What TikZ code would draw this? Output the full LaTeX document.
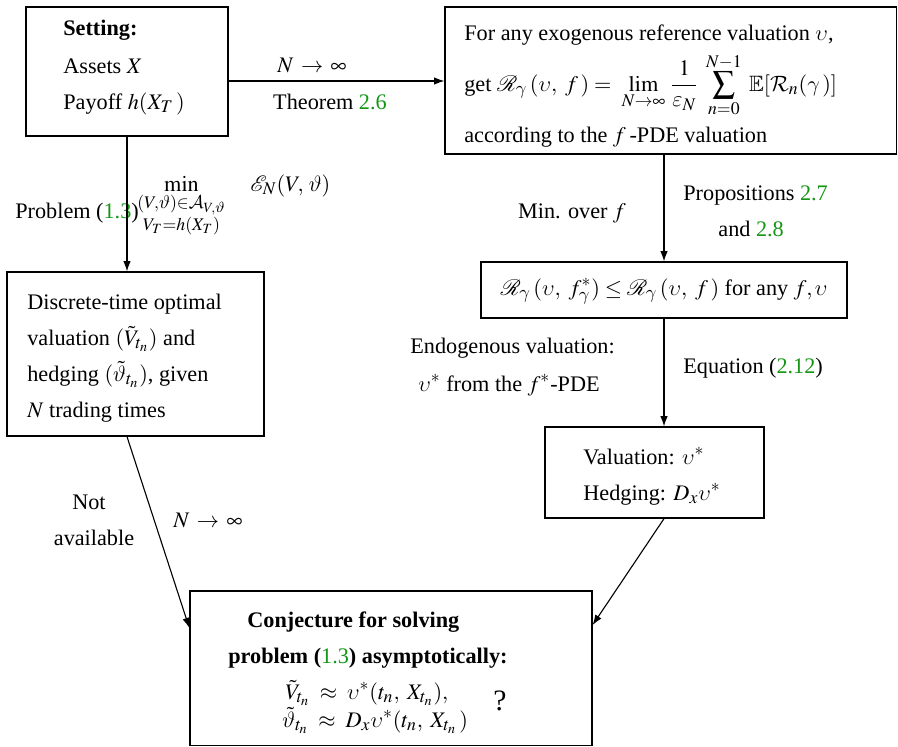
\documentclass[tikz,border=0pt]{standalone}
\usepackage{amsmath,amssymb}
\usepackage{mathptmx}
\usepackage{mathrsfs}
\usepackage[no-math]{fontspec}
\setmainfont{Liberation Serif}
\DeclareMathAlphabet{\mathcal}{OMS}{cmsy}{m}{n}
\DeclareSymbolFont{cmgreek}{OML}{cmm}{m}{it}
\DeclareMathSymbol{\upsilon}{\mathord}{cmgreek}{"1D}
\DeclareMathSymbol{\gamma}{\mathord}{cmgreek}{"0D}
\DeclareMathSymbol{\vartheta}{\mathord}{cmgreek}{"23}
\DeclareMathSymbol{\varepsilon}{\mathord}{cmgreek}{"22}
\DeclareMathSizes{12}{12}{9.6}{7.6}
\usetikzlibrary{arrows.meta,fit}
\definecolor{refgreen}{RGB}{20,150,20}
\newcommand{\gref}[1]{\textcolor{refgreen}{#1}}
\begin{document}
\begin{tikzpicture}[x=0.54pt,y=-0.54pt,
  font=\fontsize{12}{14.4}\selectfont,
  box/.style={draw, line width=0.7pt, inner sep=0pt},
  txt/.style={inner sep=0pt, anchor=base west},
  ctxt/.style={inner sep=0pt, anchor=base},
  arr/.style={-{Latex[length=5.5pt,width=4pt]}, line width=0.6pt}]
\useasboundingbox (0,0) rectangle (898,746);

% boxes
\node[box, fit={(26,7)(228,136)}] (set) {};
\node[box, fit={(445,7)(896.5,154)}] (top) {};
\node[box, fit={(481,262)(847,318)}] (min) {};
\node[box, fit={(545,427)(764,518)}] (val) {};
\node[box, fit={(7,272)(264,436)}] (disc) {};
\node[box, fit={(190,591)(592,745.5)}] (conj) {};

% setting box text
\node[txt] (s1) at (63,36) {\textbf{Setting:}};
\node[txt] (s2) at (63,73) {Assets $X$};
\node[txt] (s3) at (63,109) {Payoff $h(X_T\,)$};

% top right box text
\node[txt] (r1) at (464,40) {For any exogenous reference valuation $\upsilon$,};
\node[txt] (r2) at (464,91) {get $\displaystyle \mathscr{R}_\gamma\,(\upsilon,\ f\,)=\ \lim_{N\to\infty}\,\frac{1}{\varepsilon_N}\;\sum_{n=0}^{N-1}\;\mathbb{E}[\mathcal{R}_n(\gamma\,)]$};
\node[txt] (r3) at (464,142) {according to the $f$\,-PDE valuation};

% min box
\node[ctxt] (m1) at (664,295) {$\mathscr{R}_\gamma\,(\upsilon,\ f^*_\gamma)\le\mathscr{R}_\gamma\,(\upsilon,\ f\,)$ for any $f,\upsilon$};

% valuation box
\node[txt] (v1) at (583,464) {Valuation: $\upsilon^*$};
\node[txt] (v2) at (583,500) {Hedging: $D_x\upsilon^*$};

% discrete box
\node[txt] (d1) at (27,309) {Discrete-time optimal};
\node[txt] (d2) at (27,345) {valuation $(\tilde V_{t_n})$ and};
\node[txt] (d3) at (27,381) {hedging $(\tilde\vartheta_{t_n})$, given};
\node[txt] (d4) at (27,417) {$N$ trading times};

% conjecture box
\node[txt] (c1) at (247,627) {\textbf{Conjecture for solving}};
\node[txt] (c2) at (228,663) {\textbf{problem (}\gref{1.3}\textbf{) asymptotically:}};
\node[txt] (c3) at (285,699) {$\tilde V_{t_n}\;\approx\;\upsilon^*(t_n,\;X_{t_n}),$};
\node[txt] (c4) at (282,727) {$\tilde\vartheta_{t_n}\;\approx\;D_x\upsilon^*(t_n,\;X_{t_n}\,)$};
\node[ctxt, font=\fontsize{16}{19}\selectfont] (c5) at (500,710) {?};

% edge labels
\node[ctxt] (l1) at (312,72) {$N\,\to\,\infty$};
\node[ctxt] (l2) at (330,109) {Theorem \gref{2.6}};
\node[txt] (l3) at (15,218) {Problem (\gref{1.3})};
\node[txt] (l4) at (137,191) {$\displaystyle\min_{\substack{(V,\vartheta)\in\mathcal{A}_{V,\vartheta}\\ V_T=h(X_T)}}\quad \mathscr{E}_N(V,\,\vartheta)$};
\node[ctxt] (l5) at (572,218) {Min. over $f$};
\node[txt] (l6) at (683,200) {Propositions \gref{2.7}};
\node[txt] (l7) at (718,236) {and \gref{2.8}};
\node[txt] (l8) at (410,353) {Endogenous valuation:};
\node[txt] (l9) at (418,391) {$\upsilon^*$ from the $f^*$-PDE};
\node[txt] (l10) at (683,373) {Equation (\gref{2.12})};
\node[ctxt] (l11) at (89,509) {Not};
\node[ctxt] (l12) at (94,545) {available};
\node[txt] (l13) at (173,527) {$N\,\to\,\infty$};

% connectors
\draw[arr] (set.east |- 0,81) -- (top.west |- 0,81);
\draw[arr] (set.south) -- (set.south |- disc.north);
\draw[arr] (min.north |- top.south) -- (min.north);
\draw[arr] (min.south) -- (min.south |- val.north);
\draw[arr] (min.south |- val.south) -- (conj.east |- 0,625);
\draw[arr] (set.south |- disc.south) -- (conj.west |- 0,628);
\end{tikzpicture}
\end{document}
